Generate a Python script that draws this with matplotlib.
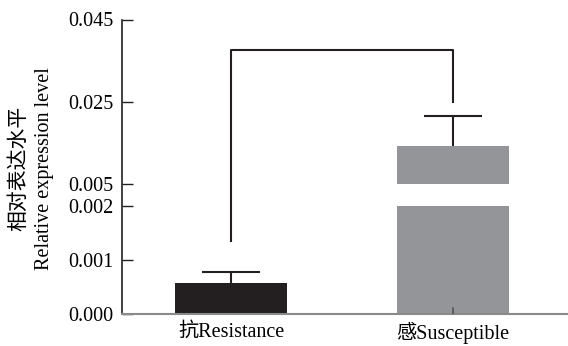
import numpy as np
import matplotlib
matplotlib.use("Agg")
import matplotlib.pyplot as plt

groups = ["抗Resistance", "感Susceptible"]
means = [0.00058, 0.0143]
errors = [0.00019, 0.0072]
y_ticks = [0.000, 0.001, 0.002, 0.005, 0.025, 0.045]
y_tick_labels = ["0.000", "0.001", "0.002", "0.005", "0.025", "0.045"]
break_lo, break_hi = 0.002, 0.005
bracket_y = 0.0377
bracket_feet = [0.00136, 0.025]

plt.rcParams['font.family'] = ['Liberation Serif', 'Noto Sans CJK SC']

# piecewise linear axis: 0-0.002 stretched, gap, 0.005-0.045 compressed
knots_v = np.array([0.0, 0.002, 0.005, 0.045])
knots_p = np.array([0.0, 108.0, 130.0, 294.5])


def fwd(v):
    return np.interp(v, knots_v, knots_p, left=-1e3, right=1e4)


def inv(p):
    return np.interp(p, knots_p, knots_v)


dark = '#231f20'
gray = '#939598'

f = plt.figure(figsize=(5.68, 3.46), dpi=100)
ax = f.add_axes([122/568, 32/346, 446/568, 294.5/346])
ax.set_yscale('function', functions=(fwd, inv))
ax.set_ylim(0, 0.045)
ax.set_xlim(-0.491, 1.518)

x = np.arange(len(groups))
w = 0.505
cap = 0.26

# black bar, fully in lower segment
ax.bar(x[0], means[0], width=w, color=dark, zorder=2)

# gray bar split over the break
ax.bar(x[1], break_lo, width=w, color=gray, zorder=2)
ax.bar(x[1], means[1] - break_hi, bottom=break_hi, width=w, color=gray, zorder=2)

# upper error bars only
for xi, m, e in zip(x, means, errors):
    ax.vlines(xi, m, m + e, color=dark, lw=1.5, zorder=3)
    ax.hlines(m + e, xi - cap/2, xi + cap/2, color=dark, lw=1.5, zorder=3)
ax.plot([x[1], x[1]], [0, 0.00012], color='#555555', lw=1.2, zorder=3)

# significance bracket
ax.plot([x[0], x[0], x[1], x[1]],
        [bracket_feet[0], bracket_y, bracket_y, bracket_feet[1]],
        color=dark, lw=1.5, zorder=3)

ax.spines['top'].set_visible(False)
ax.spines['right'].set_visible(False)
ax.spines['left'].set_color(dark)
ax.spines['left'].set_linewidth(1.2)
ax.spines['bottom'].set_color('#8a8a8a')
ax.spines['bottom'].set_linewidth(1.5)

ax.set_yticks(y_ticks)
ax.set_yticklabels(y_tick_labels, fontsize=14.5)
ax.tick_params(axis='y', direction='in', length=8, width=1, color=dark, pad=6)
ax.set_xticks(x)
ax.set_xticklabels(groups, fontsize=14.5)
ax.tick_params(axis='x', length=0, pad=6)

f.text(19/568, 1 - 168/346, '相对表达水平', rotation=90, fontsize=15,
       ha='center', va='center')
f.text(45/568, 1 - 169/346, 'Relative expression level', rotation=90,
       fontsize=14.5, ha='center', va='center')

f.savefig('out.png', dpi=100)
